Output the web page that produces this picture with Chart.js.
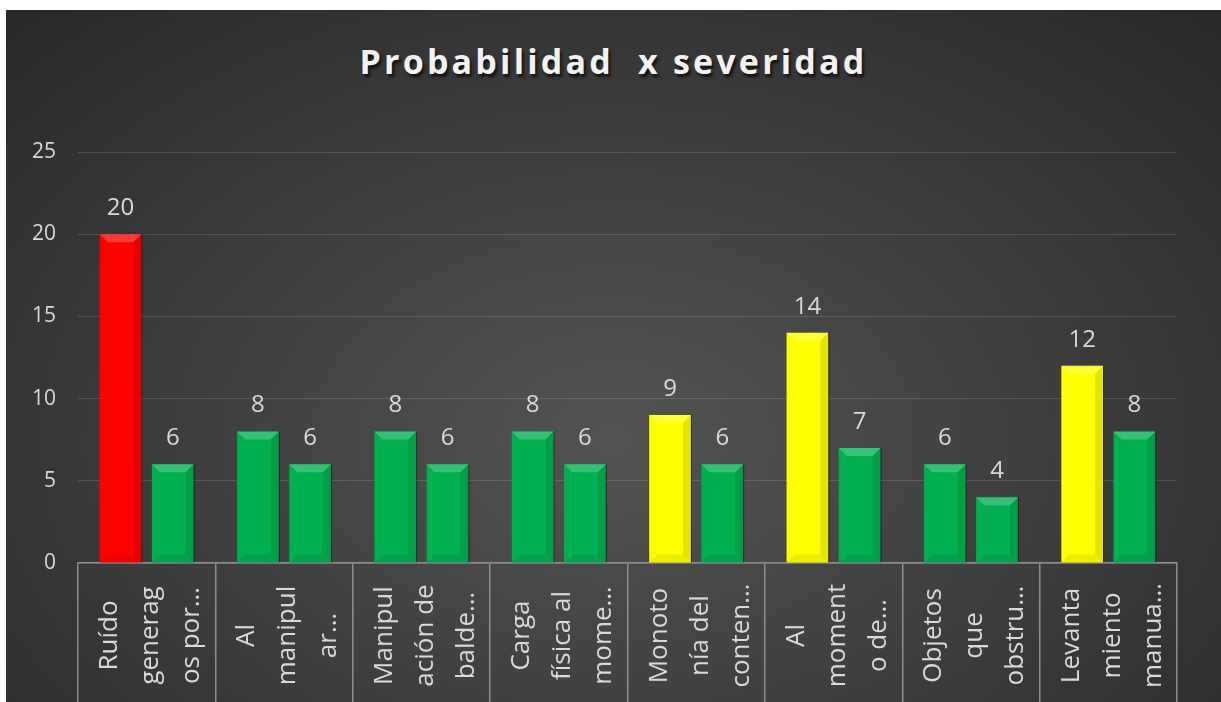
<!DOCTYPE html>
<html>
<head>
<meta charset="utf-8">
<script src="https://cdn.jsdelivr.net/npm/chart.js@4"></script>
<style>
  body { margin: 0; background: #fff; }
  #wrap {
    position: absolute; left: 6px; top: 10px; width: 1215px; height: 692px;
    background: radial-gradient(ellipse 75% 90% at 50% 62%, #535353 0%, #3d3d3d 50%, #262626 100%);
  }
  #title {
    position: absolute; left: 0; right: 0; top: 28px; text-align: center;
    font: bold 34px "Open Sans", sans-serif; letter-spacing: 3.2px;
    color: #f2f2f2; text-shadow: 2px 3px 3px rgba(0,0,0,0.7); line-height: 46px;
  }
  canvas { position: absolute; left: 0; top: 0; }
</style>
</head>
<body>
<div id="wrap">
  <div id="title">Probabilidad&nbsp; x severidad</div>
  <canvas id="chart"></canvas>
</div>
<script>
const categories = [
    ['Ruído', 'generag', 'os por…'],
    ['Al', 'manipul', 'ar…'],
    ['Manipul', 'ación de', 'balde…'],
    ['Carga', 'física al', 'mome…'],
    ['Monoto', 'nía del', 'conten…'],
    ['Al', 'moment', 'o de…'],
    ['Objetos', 'que', 'obstru…'],
    ['Levanta', 'miento', 'manua…']
];
const probSev = [20, 8, 8, 8, 9, 14, 6, 12];
const probSevColors = ['#ff0000', '#00b050', '#00b050', '#00b050', '#ffff00', '#ffff00', '#00b050', '#ffff00'];
const secondValues = [6, 6, 6, 6, 6, 7, 4, 8];
const yTicks = [0, 5, 10, 15, 20, 25];

const textColor = '#d9d9d9';

// bevel look on each bar
const bevelPlugin = {
    id: 'bevel',
    afterDatasetsDraw(chart) {
        const ctx = chart.ctx;
        chart.data.datasets.forEach((ds, di) => {
            chart.getDatasetMeta(di).data.forEach(bar => {
                const l = bar.x - bar.width / 2, r = bar.x + bar.width / 2;
                const t = bar.y, b = bar.base;
                const s = Math.min(8, (b - t) / 2);
                ctx.save();
                ctx.fillStyle = 'rgba(255,255,255,0.22)';
                ctx.beginPath();
                ctx.moveTo(l, t); ctx.lineTo(r, t); ctx.lineTo(r - s, t + s); ctx.lineTo(l + s, t + s);
                ctx.fill();
                ctx.fillStyle = 'rgba(0,0,0,0.1)';
                ctx.beginPath();
                ctx.moveTo(r, t); ctx.lineTo(r, b); ctx.lineTo(r - s, b - s); ctx.lineTo(r - s, t + s);
                ctx.fill();
                ctx.fillStyle = 'rgba(0,0,0,0.07)';
                ctx.beginPath();
                ctx.moveTo(l, b); ctx.lineTo(r, b); ctx.lineTo(r - s, b - s); ctx.lineTo(l + s, b - s);
                ctx.fill();
                ctx.strokeStyle = 'rgba(0,0,0,0.45)';
                ctx.lineWidth = 1;
                ctx.beginPath();
                ctx.moveTo(r + 0.5, t); ctx.lineTo(r + 0.5, b);
                ctx.stroke();
                ctx.restore();
            });
        });
    }
};

// value labels above bars
const valueLabels = {
    id: 'valueLabels',
    afterDatasetsDraw(chart) {
        const ctx = chart.ctx;
        ctx.save();
        ctx.fillStyle = textColor;
        ctx.font = '24px "Open Sans"';
        ctx.textAlign = 'center';
        ctx.textBaseline = 'alphabetic';
        chart.data.datasets.forEach((ds, di) => {
            chart.getDatasetMeta(di).data.forEach((bar, i) => {
                ctx.fillText(ds.data[i], bar.x, bar.y - 19);
            });
        });
        ctx.restore();
    }
};

// rotated, centred category labels
const catLabels = {
    id: 'catLabels',
    afterDraw(chart) {
        const ctx = chart.ctx;
        const xs = chart.scales.x;
        const cy = (xs.top + xs.bottom) / 2 + 3;
        ctx.save();
        ctx.fillStyle = textColor;
        ctx.font = '26px "Open Sans"';
        ctx.textAlign = 'center';
        ctx.textBaseline = 'middle';
        categories.forEach((lines, i) => {
            const cx = xs.getPixelForValue(i) + 4;
            lines.forEach((line, k) => {
                ctx.save();
                ctx.translate(cx + (k - (lines.length - 1) / 2) * 41, cy);
                ctx.rotate(-Math.PI / 2);
                ctx.fillText(line, 0, 0);
                ctx.restore();
            });
        });
        ctx.restore();
    }
};

new Chart(document.getElementById('chart').getContext('2d'), {
    type: 'bar',
    data: {
        labels: categories.map(c => c.join(' ')),
        datasets: [{
            data: probSev,
            backgroundColor: probSevColors,
            categoryPercentage: 0.76,
            barPercentage: 0.8
        }, {
            data: secondValues,
            backgroundColor: '#00b050',
            categoryPercentage: 0.76,
            barPercentage: 0.8
        }]
    },
    options: {
        responsive: true,
        maintainAspectRatio: false,
        animation: false,
        layout: { padding: { left: 0, right: 44, top: 142, bottom: 0 } },
        plugins: {
            legend: { display: false },
            tooltip: { enabled: false }
        },
        scales: {
            x: {
                grid: {
                    offset: true,
                    drawOnChartArea: false,
                    drawTicks: true,
                    tickLength: 139,
                    color: '#8e8e8e',
                    lineWidth: 1.5
                },
                border: { color: '#8e8e8e', width: 1.5 },
                ticks: { display: false }
            },
            y: {
                min: 0,
                max: 25,
                afterFit(axis) { axis.width = 72; },
                afterBuildTicks(axis) { axis.ticks = yTicks.map(v => ({ value: v })); },
                grid: { color: 'rgba(255,255,255,0.13)', drawTicks: false },
                border: { display: false },
                ticks: {
                    color: textColor,
                    font: { family: 'Open Sans', size: 21 },
                    padding: 22
                }
            }
        }
    },
    plugins: [bevelPlugin, valueLabels, catLabels]
});
</script>
</body>
</html>
